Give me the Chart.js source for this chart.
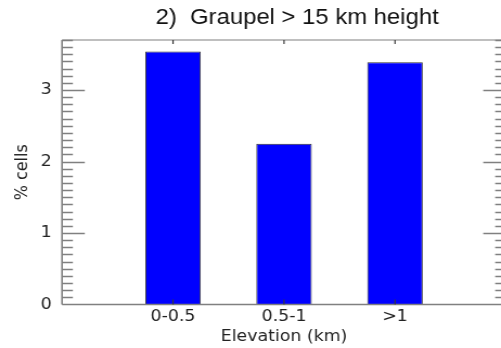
<!DOCTYPE html>
<html>
<head>
<meta charset="utf-8">
<script src="https://cdn.jsdelivr.net/npm/chart.js@4/dist/chart.umd.min.js"></script>
<style>
  html, body { margin: 0; padding: 0; background: #fff; }
  #wrap { position: relative; width: 501px; height: 348px; overflow: hidden; background: #fff; }
  #c { position: absolute; left: 0; top: 0; transform: scaleX(1.0844); transform-origin: 0 0; }
</style>
</head>
<body>
<div id="wrap"><canvas id="c" width="480" height="348"></canvas></div>
<script>
// Elevation bands and share of cells with graupel above 15 km
const categories = ['0-0.5', '0.5-1', '>1'];
const percentCells = [3.54, 2.25, 3.39];
const yTicks = [0, 1, 2, 3];
const titleText = '2)  Graupel > 15 km height';

const AXIS = '#808080';
const TICK_DARK = '#3a3a3a';

// Box frame with inward major/minor ticks on all sides, plus the title
const framePlugin = {
  id: 'frame',
  afterDatasetsDraw(chart) {
    const { ctx, chartArea: a, scales: { x, y } } = chart;
    ctx.save();
    ctx.lineCap = 'butt';

    // frame
    ctx.strokeStyle = AXIS;
    ctx.lineWidth = 1.6;
    ctx.beginPath();
    ctx.moveTo(a.left, a.top); ctx.lineTo(a.left, a.bottom);
    ctx.moveTo(a.left, a.bottom); ctx.lineTo(a.right, a.bottom);
    ctx.moveTo(a.right, a.top); ctx.lineTo(a.right, a.bottom);
    ctx.stroke();
    ctx.lineWidth = 1.2;
    ctx.beginPath();
    ctx.moveTo(a.left, a.top); ctx.lineTo(a.right, a.top);
    ctx.stroke();

    // y ticks: minor every 0.1, major on labelled values
    ctx.lineWidth = 1.5;
    ctx.beginPath();
    for (let i = 1; i * 0.1 <= y.max + 1e-9; i++) {
      const v = i / 10;
      if (Math.abs(v - Math.round(v)) < 1e-9) continue;
      const py = Math.round(y.getPixelForValue(v)) + 0.5;
      ctx.moveTo(a.left, py); ctx.lineTo(a.left + 10, py);
      ctx.moveTo(a.right, py); ctx.lineTo(a.right - 10, py);
    }
    yTicks.forEach(v => {
      if (v === 0) return;
      const py = Math.round(y.getPixelForValue(v)) + 0.5;
      ctx.moveTo(a.left, py); ctx.lineTo(a.left + 21, py);
      ctx.moveTo(a.right, py); ctx.lineTo(a.right - 21, py);
    });
    ctx.stroke();

    // x ticks at the categories, top and bottom
    ctx.strokeStyle = TICK_DARK;
    ctx.lineWidth = 1.2;
    ctx.beginPath();
    categories.forEach((_, i) => {
      const px = x.getPixelForValue(i);
      ctx.moveTo(px, a.top); ctx.lineTo(px, a.top + 4);
      ctx.moveTo(px, a.bottom); ctx.lineTo(px, a.bottom - 5);
    });
    ctx.stroke();

    // title
    ctx.fillStyle = '#111';
    ctx.font = '22px "Liberation Sans", Arial, sans-serif';
    ctx.textAlign = 'center';
    ctx.textBaseline = 'middle';
    ctx.fillText(titleText, 274, 17.5);
    ctx.restore();
  }
};

new Chart(document.getElementById('c'), {
  type: 'bar',
  data: {
    datasets: [{
      data: percentCells.map((v, i) => ({ x: i, y: v })),
      backgroundColor: '#0000ff',
      borderColor: '#333333',
      borderWidth: 1,
      barPercentage: 0.5,
      categoryPercentage: 1.0
    }]
  },
  options: {
    responsive: false,
    devicePixelRatio: 1,
    animation: false,
    layout: { padding: { left: 0, right: 13.4, top: 40, bottom: 0 } },
    plugins: { legend: { display: false }, tooltip: { enabled: false }, title: { display: false } },
    scales: {
      x: {
        type: 'linear',
        offset: false,
        min: -1,
        max: 3,
        grid: { display: false, drawTicks: false, offset: false },
        border: { display: false },
        afterBuildTicks: s => { s.ticks = categories.map((_, i) => ({ value: i })); },
        afterFit: s => { s.height = 43.5; },
        ticks: {
          callback: v => categories[v] ?? '',
          font: { family: '"DejaVu Sans", sans-serif', size: 16 },
          color: '#222',
          padding: 3,
          maxRotation: 0,
          autoSkip: false
        },
        title: {
          display: true,
          text: 'Elevation (km)',
          font: { family: '"DejaVu Sans", sans-serif', size: 16 },
          color: '#222',
          padding: { top: 0, bottom: 2 }
        }
      },
      y: {
        min: 0,
        max: 3.7,
        grid: { display: false, drawTicks: false },
        border: { display: false },
        afterBuildTicks: s => { s.ticks = yTicks.map(v => ({ value: v })); },
        afterFit: s => { s.width = 57.2; },
        ticks: {
          font: { family: '"DejaVu Sans", sans-serif', size: 16 },
          color: '#222',
          padding: 9.5
        },
        title: {
          display: true,
          text: '% cells',
          font: { family: '"DejaVu Sans", sans-serif', size: 16 },
          color: '#222',
          padding: { top: 11, bottom: 0 }
        }
      }
    }
  },
  plugins: [framePlugin]
});
</script>
</body>
</html>
